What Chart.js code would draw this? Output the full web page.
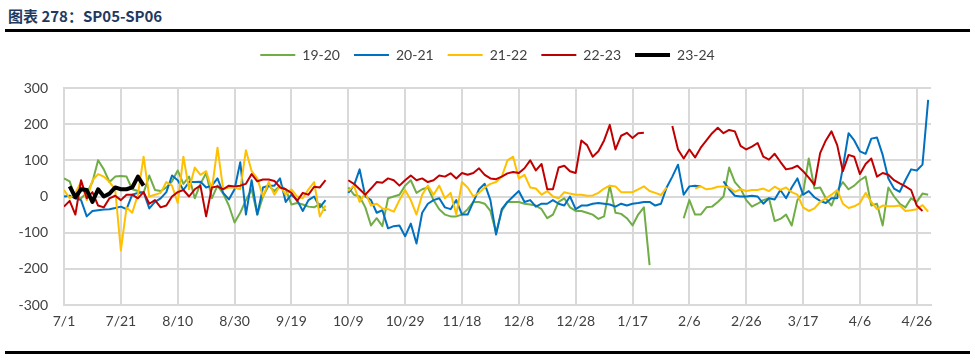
<!DOCTYPE html>
<html>
<head>
<meta charset="utf-8">
<script src="https://cdn.jsdelivr.net/npm/chart.js@4.4.1/dist/chart.umd.min.js"></script>
<style>
  html, body { margin: 0; padding: 0; background: #fff; }
  #wrap { position: relative; width: 975px; height: 360px; overflow: hidden; }
  #title { position: absolute; left: 8px; top: 5px; line-height: 18px; font: bold 15px "Noto Sans CJK SC", sans-serif; color: #1f3a60; }
  .rule { position: absolute; left: 5px; right: 5px; height: 3px; background: #000; }
  canvas { position: absolute; left: 0; top: 0; }
</style>
</head>
<body>
<div id="wrap">
  <div id="title">图表 278：SP05-SP06</div>
  <div class="rule" style="top:29px"></div>
  <canvas id="chart" width="975" height="360"></canvas>
  <div class="rule" style="top:351px"></div>
</div>
<script>
// 横轴刻度 (每20天一个)
const tickLabels = ['7/1', '7/21', '8/10', '8/30', '9/19', '10/9', '10/29', '11/18',
  '12/8', '12/28', '1/17', '2/6', '2/26', '3/17', '4/6', '4/26'];

const seriesNames = ['19-20', '20-21', '21-22', '22-23', '23-24'];

// 每2天取一个值, 从7/1开始; null = 节假日停盘
const s1920 = [
  50, 42, -5, -5, 10, 40, 100, 75, 40, 55,
  57, 55, 20, 15, 10, 58, 18, 15, 25, 42,
  72, 35, 55, -5, 35, 65, -5, 30, 8, -25,
  -72, -45, -10, 20, -50, 0, 30, 15, 30, 20,
  -22, -18, -22, -28, -30, -20, -40, null, null, null,
  25, 5, 0, -30, -80, -60, -82, -5, 0, 5,
  30, 45, 10, 20, 25, -10, -35, -50, -55, -55,
  -50, -35, -15, -15, -20, -40, -100, -40, -15, -15,
  -15, -20, -22, -25, -35, -60, -50, -15, -5, -30,
  -40, -40, -45, -50, -62, -55, 30, -45, -48, -60,
  -80, -50, -30, -190, null, null, null, null, null, -60,
  -10, -50, -50, -30, -28, -15, 0, 80, 40, 22,
  -10, -28, -20, -10, -5, -68, -62, -50, -80, -10,
  10, 105, 22, 25, -5, -25, 15, 40, 20, 30,
  45, 55, -25, -20, -80, 25, 0, -20, -30, -5,
  -15, 8, 5
];

const s2021 = [
  0, 2, -5, -10, -55, -40, -38, -36, -35, -32,
  -28, -35, 5, 10, 12, -33, -15, -5, 12, 58,
  45, 18, 40, 40, 41, 25, 30, 50, 10, -8,
  20, 95, -50, 45, -50, 25, 30, 30, 50, -15,
  5, -10, -40, -10, 0, -30, -10, null, null, null,
  10, 30, 75, 0, -10, -45, -38, -88, -82, -80,
  -110, -75, -130, -45, -20, -10, -5, -30, -35, -10,
  -50, -50, -15, 20, 35, -10, -105, -35, -15, 0,
  15, -15, -10, -28, -20, -20, -10, -20, -25, 0,
  -35, -25, -25, -20, -18, -20, -22, -28, -20, -25,
  -20, -18, -15, -15, -25, -20, 25, 55, 88, 5,
  28, 30, 28, null, null, null, 42, 20, 2, 0,
  0, 2, 0, -20, -5, -8, 18, -5, 25, 50,
  5, 15, -2, -12, -18, -5, -5, 80, 175, 155,
  125, 118, 160, 163, 115, 50, 22, 13, 45, 75,
  72, 88, 267
];

const s2122 = [
  18, -5, 10, 40, -10, 45, 62, 55, 40, 20,
  -149, -30, -45, 5, 110, 0, 5, 10, 40, 30,
  -18, 110, 20, 80, 60, 70, 20, 135, 20, 25,
  25, 20, 128, 70, 50, 0, 40, 5, 30, 5,
  20, 0, -5, 20, 40, -55, -25, null, null, null,
  15, 30, -15, 10, -25, -20, -33, -35, -42, -10,
  18, -10, -50, 5, 30, 5, 30, -5, 10, -50,
  40, 25, 0, 10, 25, 35, 40, 55, 100, 110,
  50, 60, 25, 22, 5, 15, 0, -5, 12, 8,
  5, 5, 2, 3, 10, 22, 30, 28, 12, 12,
  12, 20, 28, 15, 10, 4, 25, null, null, null,
  null, 22, 28, 20, 22, 27, 28, 25, 13, 20,
  15, 18, 18, 22, 15, 27, 18, 25, 12, 5,
  -30, -40, -33, -15, -5, 5, 18, -20, -32, -27,
  -18, 10, -15, -35, -25, -27, -27, -25, -40, -38,
  -35, -24, -42
];

const s2223 = [
  -28, -12, -50, 45, -5, 12, -25, -30, -5, 2,
  -10, 5, 5, -5, 12, -20, -10, -30, -25, 0,
  12, 18, 0, 20, 30, -55, 25, 28, 20, 30,
  28, 30, 35, 62, 42, 47, 47, 43, 25, 20,
  10, -12, 10, 5, 27, 25, 45, null, null, null,
  45, 35, 20, 5, 22, 40, 38, 50, 45, 30,
  45, 58, 45, 50, 40, 45, 58, 55, 64, 50,
  65, 60, 65, 78, 60, 50, 48, 55, 64, 68,
  65, 78, 100, 72, 90, 20, 20, 80, 85, 70,
  65, 155, 142, 110, 125, 155, 198, 130, 168, 176,
  162, 175, 176, null, null, null, null, 195, 130, 105,
  130, 108, 135, 155, 175, 190, 175, 184, 180, 140,
  130, 138, 148, 110, 102, 118, 96, 75, 78, 85,
  70, 52, 32, 120, 155, 180, 142, 70, 115, 110,
  62, 90, 105, 55, 65, 60, 45, 36, 28, 18,
  -25, -40, null
];

const s2324 = [null, 28, -2, 20, 18, -15, 20, 0, 8, 25, 20, 20, 25, 55, 30];

const colors = ['#70ad47', '#0070c0', '#ffc000', '#c00000', '#000000'];
const widths = [2, 2, 2, 2, 4];

// 转成 {x: 天数, y: 值}
function toPoints(vals) {
  return vals.map((v, i) => ({ x: i * 2, y: v }));
}

// 图例下面留点空, 并且按整张图居中
const legendTweak = {
  id: 'legendTweak',
  beforeInit(chart) {
    const fit = chart.legend.fit;
    chart.legend.fit = function () {
      fit.bind(chart.legend)();
      this.height += 16;
    };
  },
  afterLayout(chart) {
    chart.legend.left = 0;
    chart.legend.right = chart.width;
  }
};

const allSeries = [s1920, s2021, s2122, s2223, s2324];
const font = { family: 'Lato, "Liberation Sans", sans-serif', size: 14 };

new Chart(document.getElementById('chart'), {
  type: 'line',
  data: {
    datasets: allSeries.map((vals, i) => ({
      label: seriesNames[i],
      data: toPoints(vals),
      borderColor: colors[i],
      backgroundColor: colors[i],
      borderWidth: widths[i],
      pointRadius: 0,
      tension: 0,
      spanGaps: false,
      borderJoinStyle: 'round',
      order: allSeries.length - i
    }))
  },
  options: {
    responsive: false,
    animation: false,
    layout: { padding: { left: 0, right: 44, top: 34, bottom: 0 } },
    plugins: {
      legend: {
        position: 'top',
        labels: {
          usePointStyle: true,
          pointStyle: 'line',
          pointStyleWidth: 35,
          padding: 14,
          color: '#404040',
          font: font,
          sort: (a, b) => a.datasetIndex - b.datasetIndex
        }
      },
      tooltip: { enabled: false }
    },
    scales: {
      x: {
        type: 'linear',
        min: 0,
        max: 305,
        afterFit: (scale) => { scale.height = 55; },
        grid: { color: '#d9d9d9', lineWidth: 2, drawTicks: false },
        border: { color: '#d9d9d9', width: 2 },
        ticks: {
          stepSize: 20,
          includeBounds: false,
          autoSkip: false,
          maxRotation: 0,
          padding: 8,
          color: '#404040',
          font: font,
          callback: (value) => tickLabels[value / 20] ?? ''
        }
      },
      y: {
        min: -300,
        max: 300,
        afterFit: (scale) => { scale.width = 64; },
        grid: { color: '#d9d9d9', lineWidth: 2, drawTicks: false },
        border: { color: '#d9d9d9', width: 2 },
        ticks: {
          stepSize: 100,
          padding: 16,
          color: '#404040',
          font: font
        }
      }
    }
  },
  plugins: [legendTweak]
});
</script>
</body>
</html>
